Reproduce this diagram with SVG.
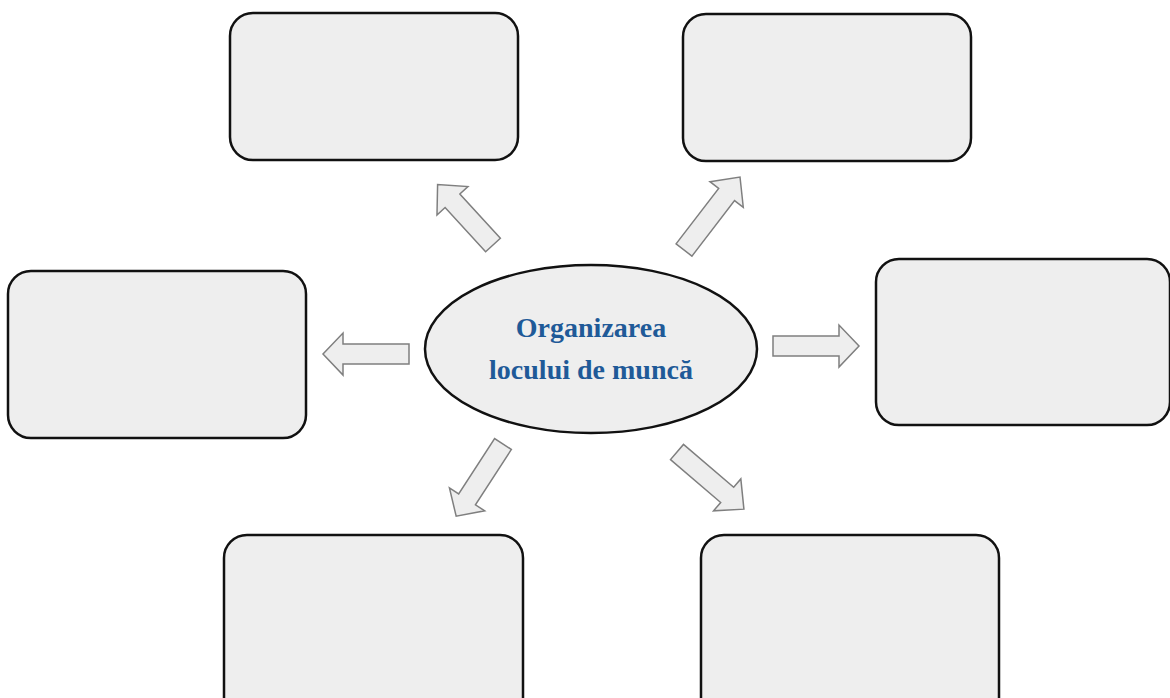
<svg xmlns="http://www.w3.org/2000/svg" width="1170" height="698" viewBox="0 0 1170 698">
<style>
.box{fill:#eeeeee;stroke:#111111;stroke-width:2.5}
.arr{fill:#eeeeee;stroke:#7f7f7f;stroke-width:1.5;stroke-linejoin:miter}
.t{font-family:"Liberation Serif",serif;font-weight:bold;font-size:28px;fill:#1f5a98;text-anchor:middle}
</style>
<defs>
<path id="a86" d="M0,-10 L66,-10 L66,-21 L86,0 L66,21 L66,10 L0,10 Z"/>
<path id="a82" d="M0,-10 L60,-10 L60,-21 L82,0 L60,21 L60,10 L0,10 Z"/>
<path id="a92" d="M0,-10 L70,-10 L70,-21 L92,0 L70,21 L70,10 L0,10 Z"/>
<path id="a88" d="M0,-10 L66,-10 L66,-21 L88,0 L66,21 L66,10 L0,10 Z"/>
</defs>
<rect width="1170" height="698" fill="#ffffff"/>
<g id="box-top-left"><rect class="box" x="230" y="13" width="288" height="147" rx="23"/></g>
<g id="box-top-right"><rect class="box" x="683" y="14" width="288" height="147" rx="23"/></g>
<g id="box-left"><rect class="box" x="8" y="271" width="298" height="167" rx="23"/></g>
<g id="box-right"><rect class="box" x="876" y="259" width="294" height="166" rx="23"/></g>
<g id="box-bottom-left"><rect class="box" x="224" y="535" width="299" height="190" rx="23"/></g>
<g id="box-bottom-right"><rect class="box" x="701" y="535" width="298" height="190" rx="23"/></g>
<g id="center">
<ellipse cx="591" cy="349" rx="166" ry="84" fill="#eeeeee" stroke="#111111" stroke-width="2.5"/>
<text class="t" x="591" y="337">Organizarea</text>
<text class="t" x="591" y="379">locului de muncă</text>
</g>
<g id="connectors">
<use href="#a86" class="arr" transform="translate(409,354) rotate(180)"/>
<use href="#a86" class="arr" transform="translate(773,346)"/>
<use href="#a82" class="arr" transform="translate(493,245) rotate(227.5)"/>
<use href="#a92" class="arr" transform="translate(684,250) rotate(-52.5)"/>
<use href="#a86" class="arr" transform="translate(503,444) rotate(123)"/>
<use href="#a88" class="arr" transform="translate(677,452) rotate(40.5)"/>
</g>
</svg>
